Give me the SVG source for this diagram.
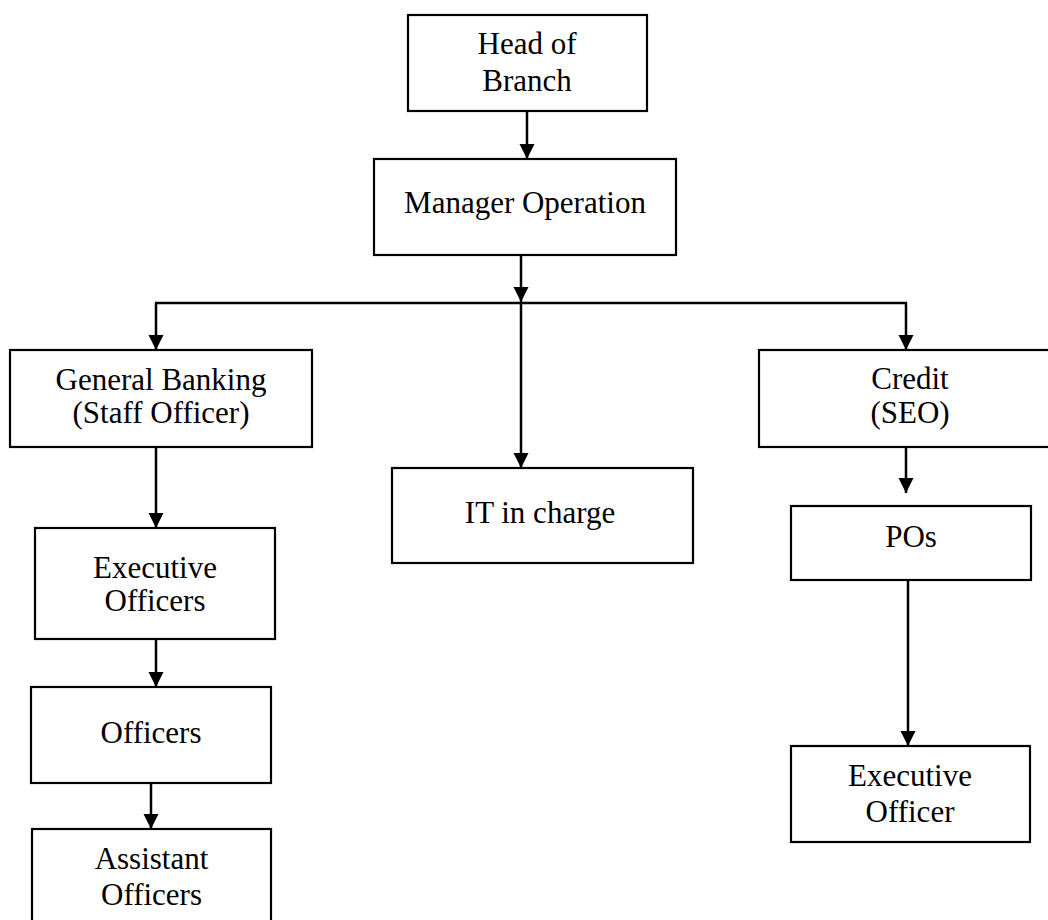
<svg xmlns="http://www.w3.org/2000/svg" width="1048" height="920" viewBox="0 0 1048 920">
<style>
.box{fill:#fff;stroke:#000;stroke-width:2.2}
.t{font-family:"Liberation Serif","Times New Roman",serif;font-size:31px;fill:#000;text-anchor:middle}
.c{fill:none;stroke:#000;stroke-width:2.5}
</style>
<defs>
<marker id="ah" markerUnits="userSpaceOnUse" markerWidth="16" markerHeight="16" refX="15" refY="7.5" orient="auto">
<path d="M0,0 L15,7.5 L0,15 z" fill="#000"/>
</marker>
</defs>
<rect width="1048" height="920" fill="#fff"/>
<g id="connectors">
<line class="c" x1="527" y1="111" x2="527" y2="159" marker-end="url(#ah)"/>
<line class="c" x1="521" y1="255" x2="521" y2="302" marker-end="url(#ah)"/>
<line class="c" x1="155" y1="303" x2="907" y2="303"/>
<line class="c" x1="521" y1="303" x2="521" y2="468" marker-end="url(#ah)"/>
<line class="c" x1="156" y1="303" x2="156" y2="350" marker-end="url(#ah)"/>
<line class="c" x1="906" y1="303" x2="906" y2="350" marker-end="url(#ah)"/>
<line class="c" x1="156" y1="447" x2="156" y2="528" marker-end="url(#ah)"/>
<line class="c" x1="156" y1="639" x2="156" y2="687" marker-end="url(#ah)"/>
<line class="c" x1="151" y1="783" x2="151" y2="829" marker-end="url(#ah)"/>
<line class="c" x1="906" y1="447" x2="906" y2="493" marker-end="url(#ah)"/>
<line class="c" x1="908" y1="580" x2="908" y2="746" marker-end="url(#ah)"/>
</g>
<g id="head">
<rect class="box" x="408" y="15" width="239" height="96"/>
<text class="t" x="527" y="54">Head of</text>
<text class="t" x="527" y="91">Branch</text>
</g>
<g id="manager">
<rect class="box" x="374" y="159" width="302" height="96"/>
<text class="t" x="525" y="213">Manager Operation</text>
</g>
<g id="general">
<rect class="box" x="10" y="350" width="302" height="97"/>
<text class="t" x="161" y="390">General Banking</text>
<text class="t" x="161" y="423">(Staff Officer)</text>
</g>
<g id="it">
<rect class="box" x="392" y="468" width="301" height="95"/>
<text class="t" x="540" y="523">IT in charge</text>
</g>
<g id="credit">
<rect class="box" x="759" y="350" width="295" height="97"/>
<text class="t" x="910" y="389">Credit</text>
<text class="t" x="910" y="423">(SEO)</text>
</g>
<g id="execofficers">
<rect class="box" x="35" y="528" width="240" height="111"/>
<text class="t" x="155" y="578">Executive</text>
<text class="t" x="155" y="611">Officers</text>
</g>
<g id="officers">
<rect class="box" x="31" y="687" width="240" height="96"/>
<text class="t" x="151" y="743">Officers</text>
</g>
<g id="assistant">
<rect class="box" x="32" y="829" width="239" height="100"/>
<text class="t" x="151.5" y="869">Assistant</text>
<text class="t" x="151.5" y="905">Officers</text>
</g>
<g id="pos">
<rect class="box" x="791" y="506" width="240" height="74"/>
<text class="t" x="911" y="547">POs</text>
</g>
<g id="execofficer">
<rect class="box" x="791" y="746" width="239" height="96"/>
<text class="t" x="910" y="786">Executive</text>
<text class="t" x="910" y="822">Officer</text>
</g>
</svg>
